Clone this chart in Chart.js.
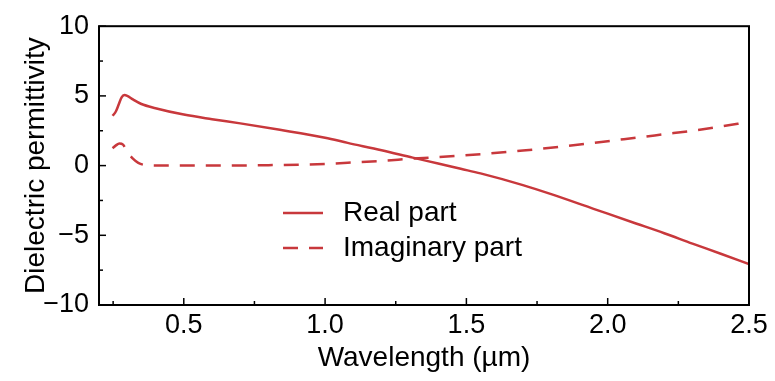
<!DOCTYPE html>
<html>
<head>
<meta charset="utf-8">
<script src="https://cdn.jsdelivr.net/npm/chart.js@4/dist/chart.umd.min.js"></script>
<style>
  html, body { margin: 0; padding: 0; background: #fff; }
  #wrap { width: 775px; height: 381px; }
</style>
</head>
<body>
<div id="wrap"><canvas id="epsChart" width="775" height="381"></canvas></div>
<script>
// значения
const wavelength = [0.248, 0.26, 0.27, 0.28, 0.29, 0.30, 0.32, 0.35, 0.40, 0.50, 0.60, 0.70, 0.84, 1.00, 1.08, 1.20, 1.31, 1.40, 1.48, 1.55, 1.70, 1.80, 1.95, 2.00, 2.10, 2.20, 2.30, 2.40, 2.50];
const realPart = [3.57, 3.9, 4.4, 4.9, 5.06, 5.0, 4.75, 4.42, 4.12, 3.66, 3.33, 3.03, 2.57, 2.0, 1.63, 1.1, 0.57, 0.15, -0.23, -0.56, -1.4, -2.05, -3.1, -3.45, -4.15, -4.85, -5.6, -6.32, -7.07];

const wavelengthIm = [0.248, 0.26, 0.272, 0.285, 0.30, 0.32, 0.339, 0.36, 0.40, 0.60, 0.80, 1.00, 1.08, 1.19, 1.31, 1.49, 1.70, 1.95, 2.10, 2.20, 2.30, 2.46, 2.50];
const imagPart = [1.25, 1.45, 1.58, 1.5, 1.0, 0.5, 0.2, 0.05, 0.0, 0.0, 0.03, 0.12, 0.21, 0.33, 0.5, 0.73, 1.08, 1.63, 2.0, 2.25, 2.5, 3.0, 3.12];

const xTicks = [0.5, 1.0, 1.5, 2.0, 2.5];
const xMinor = [0.25, 0.75, 1.25, 1.75, 2.25];
const yTicks = [-10, -5, 0, 5, 10];
const yMinor = [-7.5, -2.5, 2.5, 7.5];

const lineColor = 'rgb(200, 56, 60)';
const fontFamily = '"Liberation Sans", Arial, sans-serif';

const toPoints = (xs, ys) => xs.map((x, i) => ({ x: x, y: ys[i] }));

// рамка, внутренние засечки и легенда внутри поля графика
const framePlugin = {
    id: 'frame',
    afterDatasetsDraw(chart) {
        const { ctx, chartArea: a, scales } = chart;
        ctx.save();
        ctx.strokeStyle = '#000';
        ctx.lineWidth = 2;
        ctx.strokeRect(a.left, a.top, a.right - a.left, a.bottom - a.top);

        ctx.lineWidth = 1.5;
        const tick = (vals, len, isX) => {
            vals.forEach(v => {
                ctx.beginPath();
                if (isX) {
                    const px = scales.x.getPixelForValue(v);
                    ctx.moveTo(px, a.bottom);
                    ctx.lineTo(px, a.bottom - len);
                } else {
                    const py = scales.y.getPixelForValue(v);
                    ctx.moveTo(a.left, py);
                    ctx.lineTo(a.left + len, py);
                }
                ctx.stroke();
            });
        };
        tick(xTicks, 7, true);
        tick(xMinor, 4, true);
        tick(yTicks, 7, false);
        tick(yMinor, 4, false);

        // легенда
        const items = chart.data.datasets;
        const lx = 283, ly = 213, gap = 35;
        items.forEach((ds, i) => {
            const y = ly + i * gap;
            ctx.beginPath();
            ctx.strokeStyle = ds.borderColor;
            ctx.lineWidth = ds.borderWidth;
            ctx.setLineDash(ds.borderDash || []);
            ctx.moveTo(lx, y);
            ctx.lineTo(lx + 40, y);
            ctx.stroke();
            ctx.setLineDash([]);
            ctx.fillStyle = '#000';
            ctx.font = '28px ' + fontFamily;
            ctx.textBaseline = 'middle';
            ctx.fillText(ds.label, lx + 60, y);
        });
        ctx.restore();
    }
};

new Chart(document.getElementById('epsChart').getContext('2d'), {
    type: 'line',
    data: {
        datasets: [
            {
                label: 'Real part',
                data: toPoints(wavelength, realPart),
                borderColor: lineColor,
                borderWidth: 2.5,
                pointRadius: 0,
                cubicInterpolationMode: 'monotone',
                fill: false
            },
            {
                label: 'Imaginary part',
                data: toPoints(wavelengthIm, imagPart),
                borderColor: lineColor,
                borderWidth: 2.5,
                borderDash: [15, 11],
                pointRadius: 0,
                cubicInterpolationMode: 'monotone',
                fill: false
            }
        ]
    },
    options: {
        responsive: false,
        animation: false,
        devicePixelRatio: 1,
        layout: { padding: { left: 0, right: 26, top: 22, bottom: 0 } },
        plugins: {
            legend: { display: false },
            tooltip: { enabled: false }
        },
        scales: {
            x: {
                type: 'linear',
                min: 0.2,
                max: 2.5,
                afterBuildTicks: scale => { scale.ticks = xTicks.map(v => ({ value: v })); },
                afterFit: scale => { scale.height = 76; },
                grid: { display: false, drawTicks: false },
                border: { display: false },
                ticks: {
                    padding: 4,
                    color: '#000',
                    font: { family: fontFamily, size: 27 },
                    callback: v => v.toFixed(1)
                },
                title: {
                    display: true,
                    text: 'Wavelength (µm)',
                    color: '#000',
                    font: { family: fontFamily, size: 28 },
                    padding: { top: 0, bottom: 6 }
                }
            },
            y: {
                min: -10,
                max: 10,
                afterBuildTicks: scale => { scale.ticks = yTicks.map(v => ({ value: v })); },
                afterFit: scale => { scale.width = 99; },
                grid: { display: false, drawTicks: false },
                border: { display: false },
                ticks: {
                    padding: 10,
                    color: '#000',
                    font: { family: fontFamily, size: 27 },
                    callback: v => (v < 0 ? '\u2212' + Math.abs(v) : String(v))
                },
                title: {
                    display: true,
                    text: 'Dielectric permittivity',
                    color: '#000',
                    font: { family: fontFamily, size: 28 },
                    padding: { top: 19, bottom: 0 }
                }
            }
        }
    },
    plugins: [framePlugin]
});
</script>
</body>
</html>
